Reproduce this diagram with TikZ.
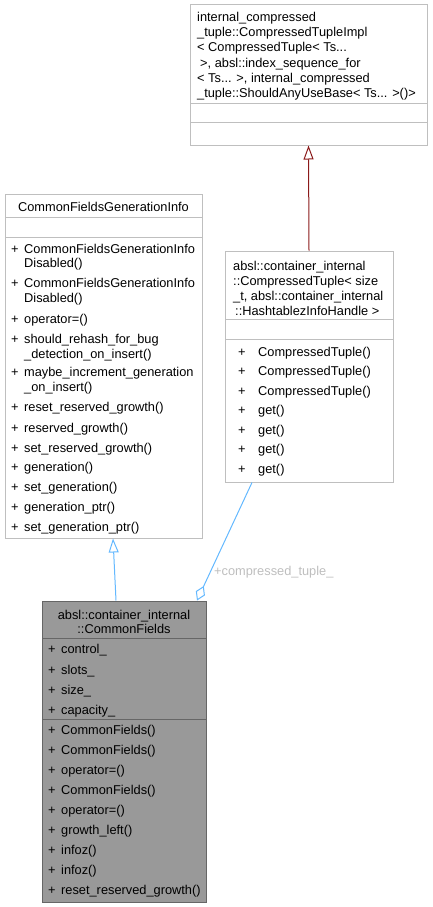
\documentclass[tikz,border=0pt]{standalone}
\usepackage{fontspec}
\setmainfont{Liberation Sans}
\usetikzlibrary{arrows.meta}
\definecolor{edgeblue}{HTML}{63B8FF}
\definecolor{edgered}{HTML}{8B1A1A}
\definecolor{boxline}{HTML}{BFBFBF}
\definecolor{mainfill}{HTML}{999999}
\definecolor{mainline}{HTML}{666666}
\definecolor{labelgray}{HTML}{BEBEBE}
\begin{document}
\begin{tikzpicture}[x=1pt, y=-1pt,
  font=\fontsize{12.8}{15}\selectfont,
  part/.style={draw=boxline, line width=1pt, rectangle, inner sep=0pt},
  mainpart/.style={draw=mainline, fill=mainfill, line width=1pt, rectangle, inner sep=0pt},
  row/.style={anchor=base west, inner sep=0pt},
  ctitle/.style={anchor=base, inner sep=0pt},
  inherit/.style={-{Triangle[open, length=14pt, width=10pt]}, line width=1pt},
  member/.style={-{Diamond[open, length=16pt, width=10pt]}, line width=1pt, draw=edgeblue}]
\useasboundingbox (0,0) rectangle (433,907);

\node[part, minimum width=237pt, minimum height=98pt] (implT) at (308.5,54) {};
\node[part, minimum width=237pt, minimum height=19pt] (implA) at (308.5,112.5) {};
\node[part, minimum width=237pt, minimum height=23pt] (implM) at (308.5,133.5) {};
\node[row] (implL1) at (197,22) {internal\_compressed};
\node[row] (implL2) at (197,37) {\_tuple::CompressedTupleImpl};
\node[row] (implL3) at (197,52) {< CompressedTuple< Ts...};
\node[row] (implL4) at (200,67) {>, absl::index\_sequence\_for};
\node[row] (implL5) at (197,82) {< Ts... >, internal\_compressed};
\node[row] (implL6) at (197,97) {\_tuple::ShouldAnyUseBase< Ts... >()>};

\node[part, minimum width=197pt, minimum height=23pt] (cfgiT) at (103.5,205.5) {};
\node[part, minimum width=197pt, minimum height=20pt] (cfgiA) at (103.5,227) {};
\node[part, minimum width=197pt, minimum height=301pt] (cfgiM) at (103.5,387.5) {};
\node[ctitle] (cfgiName) at (103.5,211.5) {CommonFieldsGenerationInfo};
\foreach \y [count=\i] in {253,287,323,343,376,411,432,452,471,491,511,531}
  \node[row] (cfgiP\i) at (11,\y) {+};
\foreach \y/\t [count=\i] in {253/CommonFieldsGenerationInfo, 267/Disabled(),
    287/CommonFieldsGenerationInfo, 302/Disabled(), 323/operator=(),
    343/should\_rehash\_for\_bug, 358/\_detection\_on\_insert(),
    376/maybe\_increment\_generation, 391/\_on\_insert(),
    411/reset\_reserved\_growth(), 432/reserved\_growth(),
    452/set\_reserved\_growth(), 471/generation(), 491/set\_generation(),
    511/generation\_ptr(), 531/set\_generation\_ptr()}
  \node[row] (cfgiL\i) at (24,\y) {\t};

\node[part, minimum width=168pt, minimum height=68pt] (ctT) at (309,285) {};
\node[part, minimum width=168pt, minimum height=20pt] (ctA) at (309,329) {};
\node[part, minimum width=168pt, minimum height=143pt] (ctM) at (309,410.5) {};
\node[row] (ctL1) at (233,270) {absl::container\_internal};
\node[row] (ctL2) at (233,285) {::CompressedTuple< size};
\node[row] (ctL3) at (233,300) {\_t, absl::container\_internal};
\node[row] (ctL4) at (235,315) {::HashtablezInfoHandle >};
\foreach \y/\t [count=\i] in {356/CompressedTuple(), 375.5/CompressedTuple(),
    395/CompressedTuple(), 414.5/get(), 434/get(), 453.5/get(), 473/get()}
{
  \node[row] (ctP\i) at (238,\y) {+};
  \node[row] (ctL\i) at (258,\y) {\t};
}

\node[mainpart, minimum width=164pt, minimum height=37pt] (cfT) at (124,619.5) {};
\node[mainpart, minimum width=164pt, minimum height=81pt] (cfA) at (124,678.5) {};
\node[mainpart, minimum width=164pt, minimum height=183pt] (cfM) at (124,810.5) {};
\node[ctitle] (cfName1) at (124,619.5) {absl::container\_internal};
\node[ctitle] (cfName2) at (124,633.5) {::CommonFields};
\foreach \y/\t [count=\i] in {653.5/control\_, 674/slots\_, 694/size\_, 714/capacity\_}
  \node[row] (cfAttr\i) at (48,\y) {+\hspace{5.5pt}\t};
\foreach \y/\t [count=\i] in {734.5/CommonFields(), 754.5/CommonFields(),
    774.5/operator=(), 794.5/CommonFields(), 814.5/operator=(),
    834.5/growth\_left(), 854.5/infoz(), 874.5/infoz(),
    894.5/reset\_reserved\_growth()}
  \node[row] (cfMeth\i) at (48,\y) {+\hspace{5.5pt}\t};

\draw[inherit, draw=edgered] (ctT.north) -- (implM.south);
\draw[inherit, draw=edgeblue] ([xshift=-8pt]cfT.north) -- ([xshift=9.5pt]cfgiM.south);
\draw[member] ([xshift=-57pt]ctM.south) -- ([xshift=73pt]cfT.north);
\node[row, text=labelgray] (tupleLabel) at (214,575) {+compressed\_tuple\_};
\end{tikzpicture}
\end{document}
